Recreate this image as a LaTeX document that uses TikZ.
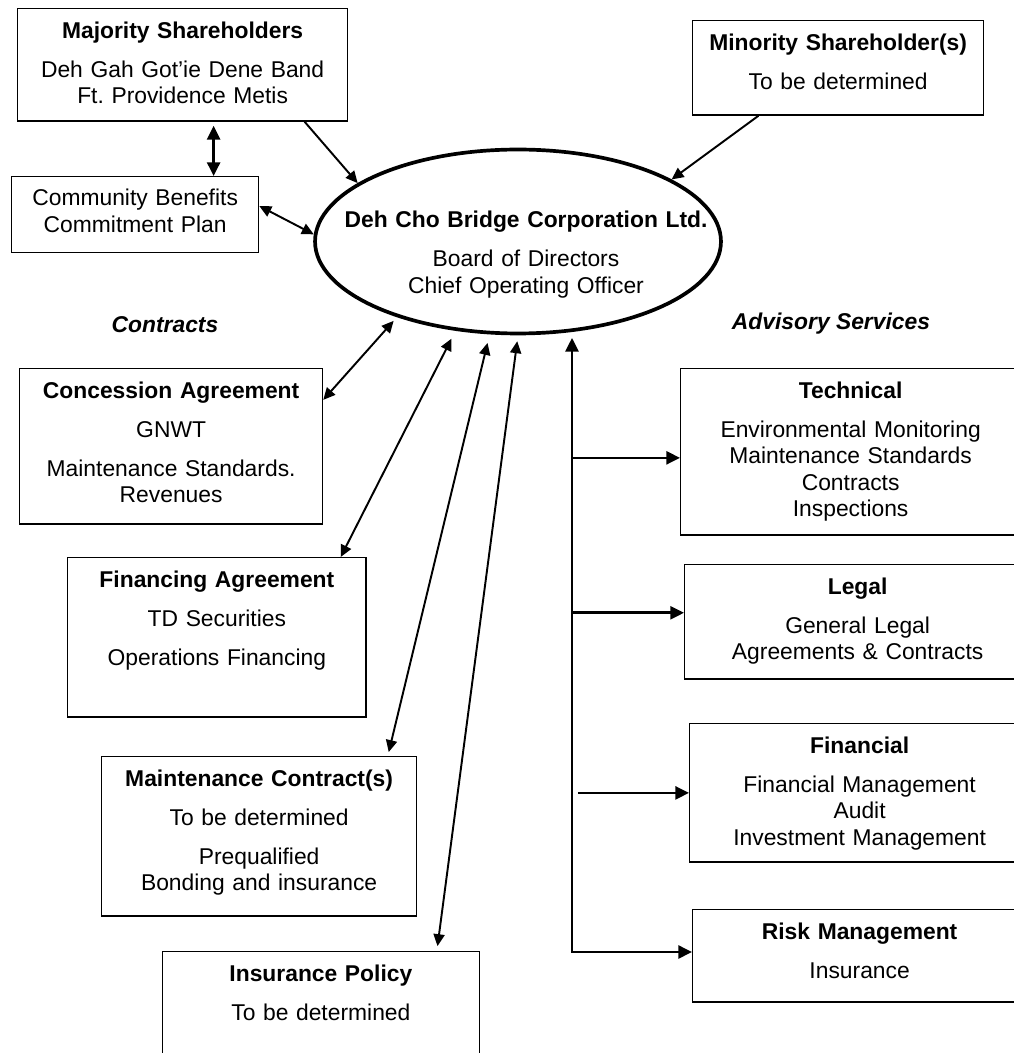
\documentclass[tikz,border=0pt]{standalone}
\usepackage{fontspec}
\setmainfont{Liberation Sans}
\usetikzlibrary{arrows.meta,shapes.geometric}
\frenchspacing

\tikzset{
  box/.style={draw, line width=0.75pt, anchor=north west, inner sep=0pt, align=center,
    text height=0.59cm, font=\fontsize{13}{15.08}\selectfont},
  hub/.style={ellipse, draw, line width=2.1pt, minimum width=8.12cm, minimum height=3.68cm, inner sep=0pt},
  link/.style={line width=1.1pt, >={Triangle[length=6.8pt,width=6.3pt]}},
  trunkline/.style={line width=1.5pt, >={Triangle[length=7.8pt,width=7.4pt]}},
  heading/.style={anchor=base, font=\fontsize{13}{15.08}\selectfont\bfseries\itshape}
}

\begin{document}
\begin{tikzpicture}[x=0.02cm, y=-0.02cm]
\useasboundingbox (0,0) rectangle (1013,1053);

% shareholders and the corporation
\node[box, text width=6.6cm, text depth=1.66cm] (major) at (17,8)
  {\textbf{Majority Shareholders}\\[0.25cm] Deh Gah Got’ie Dene Band\\ Ft. Providence Metis};
\node[box, text width=5.82cm, text depth=1.3cm] (minor) at (692,20)
  {\textbf{Minority Shareholder(s)}\\[0.25cm] To be determined};
\node[box, text width=4.94cm, text height=0.58cm, text depth=0.94cm] (commun) at (11,176)
  {Community Benefits\\ Commitment Plan};
\node[hub] (corp) at (518,241.5) {};
\node[anchor=base, text width=8cm, align=center, inner sep=0pt, font=\fontsize{13}{15.08}\selectfont] (corpname) at (526,228)
  {\textbf{Deh Cho Bridge Corporation Ltd.}\\[0.25cm] Board of Directors\\ Chief Operating Officer};

\node[heading] (contracts) at (165,333) {Contracts};
\node[heading] (advisory) at (831,330) {Advisory Services};

% contracts
\node[box, text width=6.06cm, text depth=2.52cm] (conc) at (19,368)
  {\textbf{Concession Agreement}\\[0.25cm] GNWT\\[0.25cm] Maintenance Standards.\\ Revenues};
\node[box, text width=5.97cm, text depth=2.6cm] (fin) at (67,557)
  {\textbf{Financing Agreement}\\[0.25cm] TD Securities\\[0.25cm] Operations Financing};
\node[box, text width=6.3cm, text depth=2.6cm] (maint) at (101,756)
  {\textbf{Maintenance Contract(s)}\\[0.25cm] To be determined\\[0.25cm] Prequalified\\ Bonding and insurance};
\node[box, text width=6.35cm, text depth=2.4cm] (ins) at (161.5,951)
  {\textbf{Insurance Policy}\\[0.25cm] To be determined};

% advisory services
\node[box, text width=6.8cm, text depth=2.74cm] (tech) at (680,368)
  {\textbf{Technical}\\[0.25cm] Environmental Monitoring\\ Maintenance Standards\\ Contracts\\ Inspections};
\node[box, text width=6.92cm, text depth=1.7cm] (legal) at (684,564)
  {\textbf{Legal}\\[0.25cm] General Legal\\ Agreements \& Contracts};
\node[box, text width=6.8cm, text depth=2.18cm] (finan) at (689,723)
  {\textbf{Financial}\\[0.25cm] Financial Management\\ Audit\\ Investment Management};
\node[box, text width=6.68cm, text depth=1.26cm] (risk) at (692,909)
  {\textbf{Risk Management}\\[0.25cm] Insurance};

\draw[link,->] (major.-25) -- (corp.160);
\draw[link,->] (minor.211) -- (corp.22);
\draw[trunkline,<->,shorten <=2.3pt] ([xshift=0.62cm]major.south) -- ([xshift=0.62cm]major.south |- commun.north);
\draw[link,<->] (commun.4) -- (corp.178);
\draw[link,<->,shorten >=2.8pt] (conc.17) -- (corp.212);
\draw[link,<->,shorten >=5pt] (fin.33) -- (corp.235);
\draw[link,<->,shorten <=2.3pt,shorten >=5pt] (maint.32) -- (corp.253);
\draw[link,<->,shorten <=2.8pt,shorten >=3.4pt] ([xshift=2.32cm]ins.north) -- (corp.270);

\coordinate (trunk) at (572,952);
\draw[trunkline,<->,shorten >=3.1pt] (trunk -| risk.west) -- (trunk) -- (trunk |- corp.299);
\draw[trunkline,->] (trunk |- tech.182) -- (tech.182);
\draw[trunkline,->] (trunk |- legal.177) -- (legal.177);
\draw[trunkline,->,shorten <=3.4pt] (trunk |- finan.west) -- (finan.west);
\end{tikzpicture}
\end{document}
